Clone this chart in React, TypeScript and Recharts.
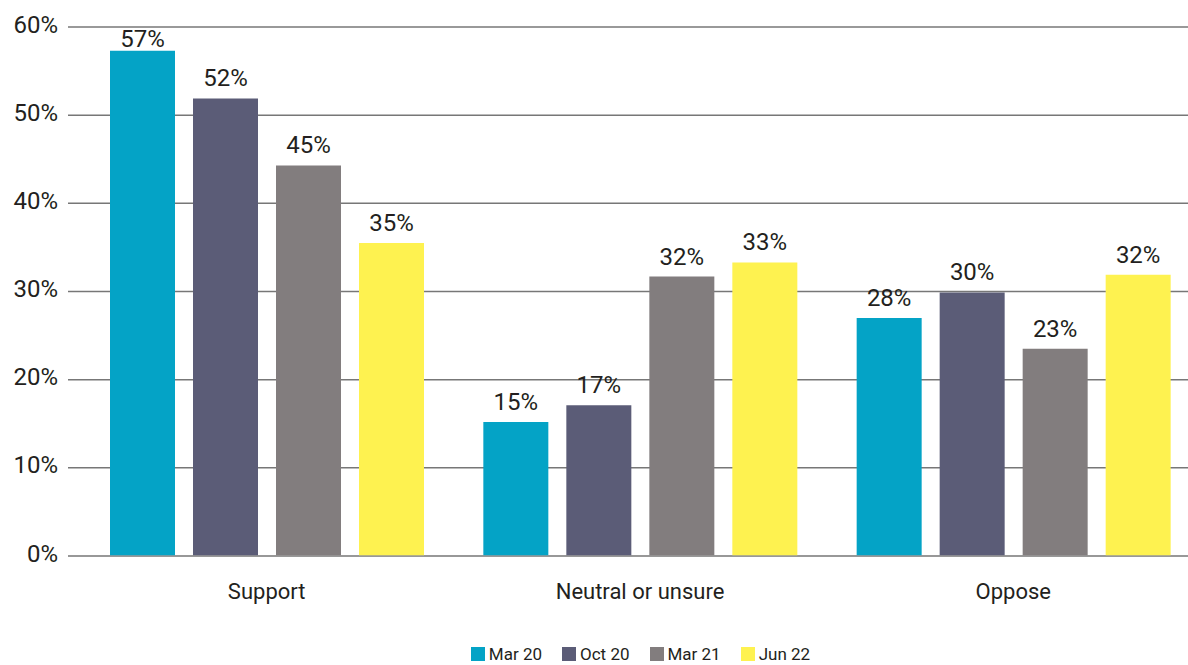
import React from 'react';
import { BarChart, Bar, XAxis, YAxis, CartesianGrid, Legend, LabelList } from 'recharts';

const categories = ['Support', 'Neutral or unsure', 'Oppose'];
const mar20 = [57.3, 15.2, 27.0];
const oct20 = [51.9, 17.1, 29.9];
const mar21 = [44.3, 31.7, 23.5];
const jun22 = [35.5, 33.3, 31.9];
const mar20Labels = ['57%', '15%', '28%'];
const oct20Labels = ['52%', '17%', '30%'];
const mar21Labels = ['45%', '32%', '23%'];
const jun22Labels = ['35%', '33%', '32%'];
const yTicks = [0, 10, 20, 30, 40, 50, 60];

const series = [
    { key: 'mar20', name: 'Mar 20', color: '#04A3C6', values: mar20, labels: mar20Labels },
    { key: 'oct20', name: 'Oct 20', color: '#5B5C77', values: oct20, labels: oct20Labels },
    { key: 'mar21', name: 'Mar 21', color: '#827D7E', values: mar21, labels: mar21Labels },
    { key: 'jun22', name: 'Jun 22', color: '#FEF250', values: jun22, labels: jun22Labels },
];

const data = categories.map((name, i) => {
    const row: any = { name };
    series.forEach((s) => {
        row[s.key] = s.values[i];
        row[s.key + 'Label'] = s.labels[i];
    });
    return row;
});

const FONT = 'Roboto, "Noto Sans", sans-serif';
const TEXT = '#231F20';

// value label above each bar, kept below the top gridline
const TopLabel = (props: any) => {
    const { x, y, width, value } = props;
    const baseline = Math.max(y - 12, 47);
    return (
        <text x={x + width / 2} y={baseline} textAnchor="middle" fontSize={24} fill={TEXT} fontFamily={FONT}>
            {value}
        </text>
    );
};

const LegendContent = () => (
    <div style={{ display: 'flex', justifyContent: 'center', alignItems: 'center', height: 30, paddingTop: 8, boxSizing: 'border-box', fontFamily: FONT, fontSize: 17, color: TEXT }}>
        {series.map((s) => (
            <div key={s.key} style={{ display: 'flex', alignItems: 'center', margin: '0 10px' }}>
                <span style={{ width: 14, height: 14, background: s.color, display: 'inline-block', marginRight: 4 }} />
                <span>{s.name}</span>
            </div>
        ))}
    </div>
);

export default function App() {
    return (
        <div style={{ width: 1188, height: 665, overflow: 'hidden', background: '#fff' }}>
            <style>{'body{margin:0}'}</style>
            <BarChart
                width={1200}
                height={665}
                data={data}
                margin={{ top: 27, right: 0, left: 0, bottom: 0 }}
                barSize={65}
                barGap={18}
            >
                <CartesianGrid vertical={false} stroke="#777" strokeWidth={1.5} />
                <XAxis
                    dataKey="name"
                    padding={{ left: 12, right: 0 }}
                    tickLine={false}
                    axisLine={{ stroke: '#999', strokeWidth: 1.5 }}
                    tickSize={0}
                    tickMargin={27}
                    height={79}
                    tick={{ fontSize: 22, fill: TEXT, fontFamily: FONT }}
                />
                <YAxis
                    width={68}
                    domain={[0, 60]}
                    ticks={yTicks}
                    tickFormatter={(v) => `${v}%`}
                    axisLine={false}
                    tickLine={false}
                    tickSize={0}
                    tickMargin={10}
                    tick={{ fontSize: 24, fill: TEXT, fontFamily: FONT, dy: -3 }}
                />
                <Legend verticalAlign="bottom" content={<LegendContent />} wrapperStyle={{ left: 81, width: 1119, height: 30 }} />
                {series.map((s) => (
                    <Bar key={s.key} dataKey={s.key} name={s.name} fill={s.color} isAnimationActive={false}>
                        <LabelList dataKey={s.key + 'Label'} content={<TopLabel />} />
                    </Bar>
                ))}
            </BarChart>
        </div>
    );
}
